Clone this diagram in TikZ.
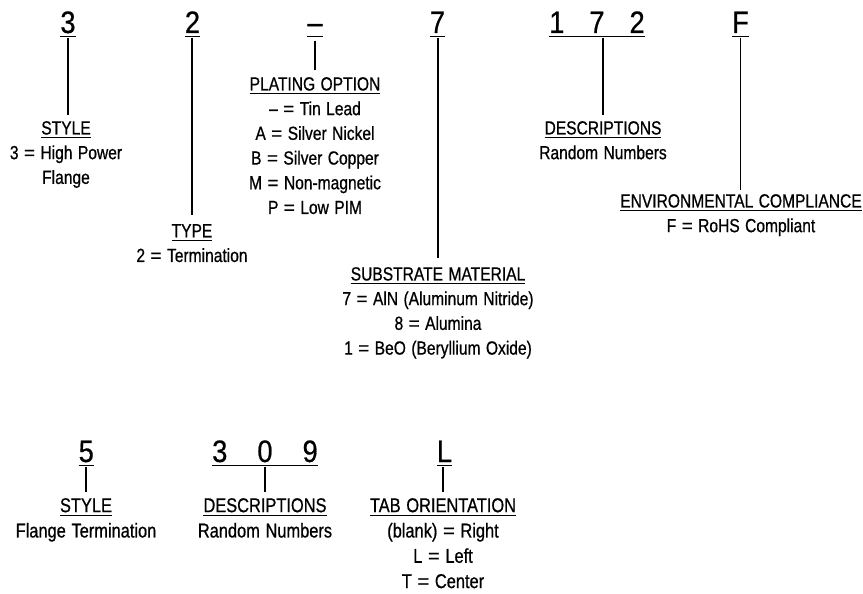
\documentclass[tikz,border=0pt]{standalone}
\usepackage{fontspec}
\setmainfont[FakeStretch=0.82, FakeBold=0.7, WordSpace=1.25]{Liberation Sans}
\newfontfamily\codefam[FakeStretch=0.88, FakeBold=0.6]{Liberation Sans}
\newfontfamily\eqfam[FakeBold=0.7]{Liberation Sans}
\newcommand\myul[1]{\setbox0\hbox{#1}\rlap{\rule[-4pt]{\wd0}{1.3pt}}\box0}
\newcommand\codeul[1]{\setbox0\hbox{#1}\rlap{\rule[-4.4pt]{\wd0}{1.5pt}}\box0}
\newcommand\eqs{{\eqfam =}}
\begin{document}
\begin{tikzpicture}[x=1pt,y=-1pt,
  code/.style={inner sep=0pt, anchor=base, font=\codefam\fontsize{31}{36}\selectfont},
  lab/.style={inner sep=0pt, anchor=north, align=center, font=\fontsize{19}{24.7}\selectfont},
  labb/.style={lab, font=\fontsize{20}{25.3}\selectfont},
  conn/.style={line width=1.3pt, shorten >=6pt}]
\useasboundingbox (0,0) rectangle (863,594);
% codes
\node[code] (c3) at (68,33) {\codeul{3}};
\node[code] (c2) at (192.5,33) {\codeul{2}};
\node[code] (cP) at (315,33) {\codeul{–}};
\node[code] (c7) at (437.5,33) {\codeul{7}};
\node[code] (c172) at (597,33) {\codeul{1\hspace{25pt}7\hspace{25pt}2}};
\node[code] (cF) at (740.5,33) {\codeul{F}};
\node[code] (c5) at (86.3,462) {\codeul{5}};
\node[code] (c309) at (265,462) {\codeul{3\hspace{30pt}0\hspace{30pt}9}};
\node[code] (cL) at (444.5,462) {\codeul{L}};
% labels
\node[lab] (l3) at (66,121) {\myul{STYLE}\\3 \eqs{} High Power\\Flange};
\node[lab] (lP) at (315,77) {\myul{PLATING OPTION}\\– \eqs{} Tin Lead\\A \eqs{} Silver Nickel\\B \eqs{} Silver Copper\\M \eqs{} Non-magnetic\\P \eqs{} Low PIM};
\node[lab] (l2) at (192,224) {\myul{TYPE}\\2 \eqs{} Termination};
\node[lab] (l7) at (438,267) {\myul{SUBSTRATE MATERIAL}\\7 \eqs{} AlN (Aluminum Nitride)\\8 \eqs{} Alumina\\1 \eqs{} BeO (Beryllium Oxide)};
\node[lab] (l172) at (603,121) {\myul{DESCRIPTIONS}\\Random Numbers};
\node[lab] (lF) at (741,194) {\myul{ENVIRONMENTAL COMPLIANCE}\\F \eqs{} RoHS Compliant};
\node[labb] (l5) at (86,498) {\myul{STYLE}\\Flange Termination};
\node[labb] (l309) at (265,498) {\myul{DESCRIPTIONS}\\Random Numbers};
\node[labb] (lL) at (443,498) {\myul{TAB ORIENTATION}\\(blank) \eqs{} Right\\L \eqs{} Left\\T \eqs{} Center};
% connectors
\draw[conn] (c3.south) -- (c3.south |- l3.north);
\draw[conn, shorten >=9pt] (c2.south -| l2.north) -- (l2.north);
\draw[conn, shorten <=3pt, shorten >=7pt] (cP.south -| lP.north) -- (lP.north);
\draw[conn, shorten >=9pt] (c7.south -| l7.north) -- (l7.north);
\draw[conn] (c172.south -| l172.north) -- (l172.north);
\draw[conn, shorten >=4pt] (cF.south) -- (cF.south |- lF.north);
\draw[conn] (c5.south -| l5.north) -- (l5.north);
\draw[conn] (c309.south -| l309.north) -- (l309.north);
\draw[conn] (cL.south -| lL.north) -- (lL.north);
\end{tikzpicture}
\end{document}
